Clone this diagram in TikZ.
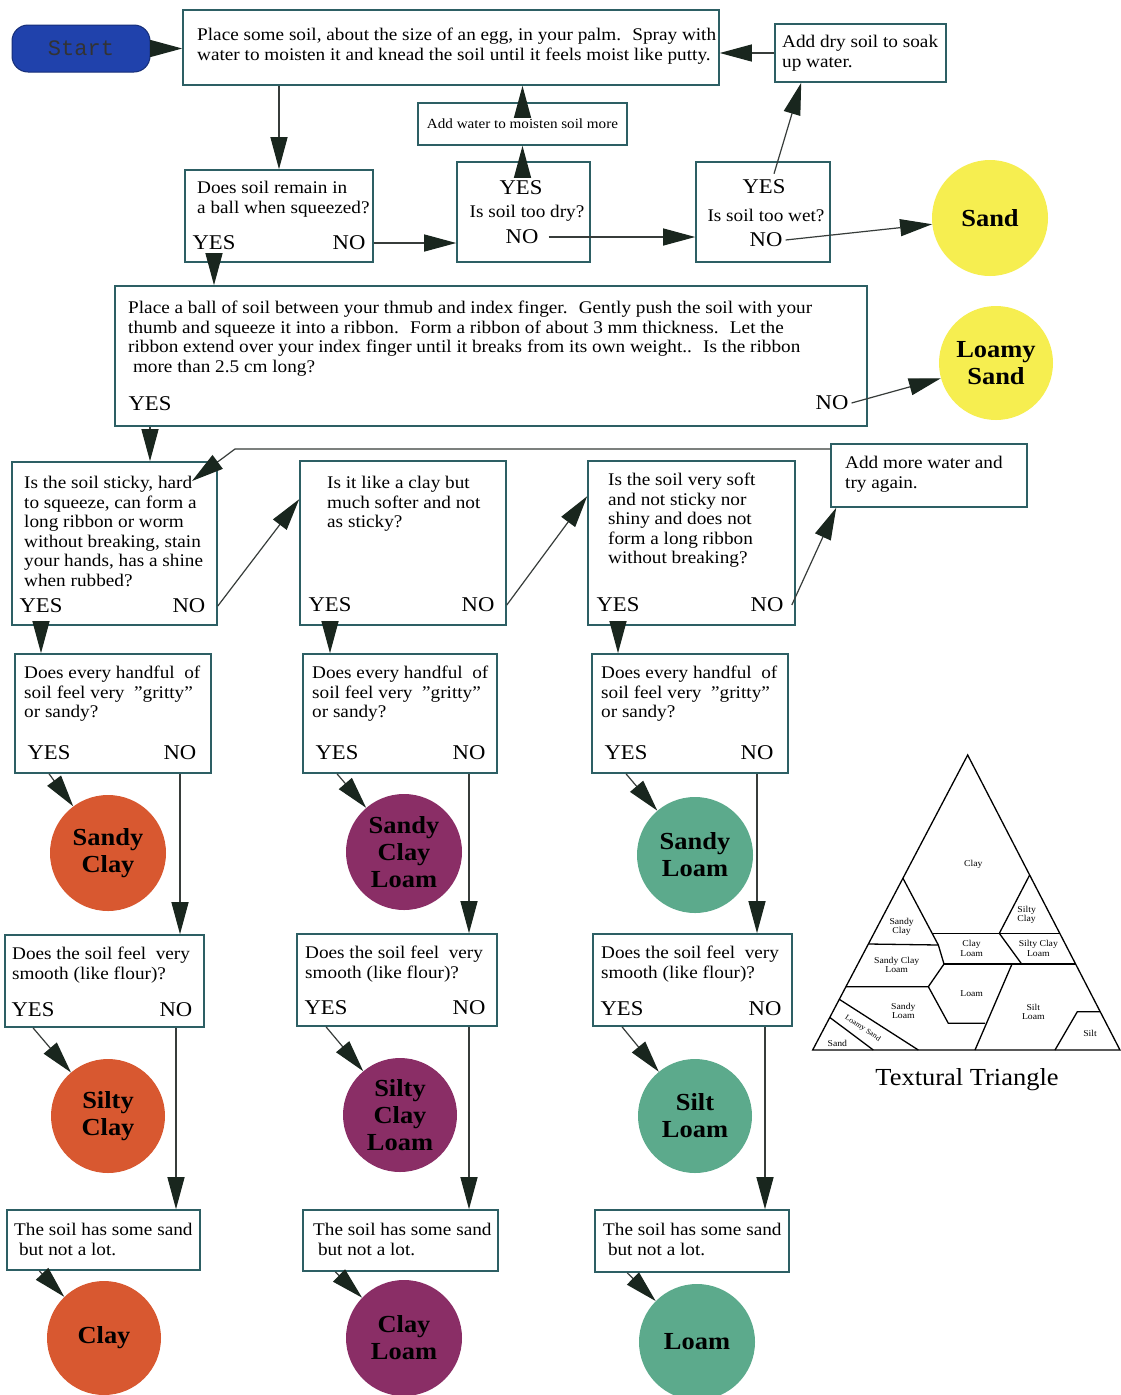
\documentclass[tikz,border=0pt]{standalone}
\usepackage{fontspec}
\setmainfont[FakeStretch=1.08]{Liberation Serif}
\setmonofont{Liberation Mono}
\usetikzlibrary{arrows.meta,fit,calc}
\definecolor{boxline}{RGB}{45,95,100}
\definecolor{arrowc}{RGB}{25,38,30}
\definecolor{linec}{RGB}{55,60,58}
\definecolor{sandy}{RGB}{246,238,80}
\definecolor{orng}{RGB}{216,88,48}
\definecolor{purp}{RGB}{138,46,102}
\definecolor{tealc}{RGB}{92,170,140}
\definecolor{startblue}{RGB}{32,66,172}
\begin{document}
\begin{tikzpicture}[x=1pt,y=-1pt,
  box/.style={draw=boxline, line width=1.6pt, inner sep=0pt},
  txt/.style={inner sep=0pt, align=left, anchor=north west, font=\fontsize{17.8}{19.5}\selectfont},
  yn/.style={inner sep=0pt, font=\fontsize{21}{24}\selectfont},
  circ/.style={circle, inner sep=0pt, minimum size=116pt, align=center, font=\fontsize{24.5}{27}\selectfont\bfseries},
  arr/.style={draw=linec, line width=1.2pt, -{Triangle[length=32pt,width=17pt,color=arrowc]}},
  tri/.style={line width=1.3pt, black},
  tlab/.style={inner sep=0pt, align=center, font=\fontsize{9}{9.5}\selectfont}]
\useasboundingbox (0,0) rectangle (1120,1395);
\fill[white] (0,0) rectangle (1120,1395);

% ---------- top row ----------
\node[fit={(12,25) (150,72)}, inner sep=0pt, rounded corners=16pt, fill=startblue, draw=startblue!70!black, line width=1pt] (start) {};
\node[inner sep=0pt, font=\ttfamily\fontsize{22}{24}\selectfont, text=black!80] (startt) at (start.center) {Start};

\node[box, fit={(183,10) (719,85)}] (box1) {};
\node[txt] (box1t) at (197,28) {Place some soil, about the size of an egg, in your palm.~ Spray with\\water to moisten it and knead the soil until it feels moist like putty.};

\node[box, fit={(775,24) (946,82)}] (adddry) {};
\node[txt] (adddryt) at (782,35) {Add dry soil to soak\\up water.};

\node[box, fit={(418,103) (627,145)}] (addwater) {};
\node[inner sep=0pt, font=\fontsize{14}{16}\selectfont] (addwatert) at (addwater.center) {Add water to moisten soil more};

\node[box, fit={(185,170) (373,262)}] (q1) {};
\node[txt] (q1t) at (197,181) {Does soil remain in\\a ball when squeezed?};
\node[yn] (q1yes) at (214,243) {YES};
\node[yn] (q1no) at (349,243) {NO};

\node[box, fit={(457,162) (590,262)}] (dry) {};
\node[yn] (dryyes) at (521,188) {YES};
\node[inner sep=0pt, font=\fontsize{17.8}{19}\selectfont] (dryq) at (527,213) {Is soil too dry?};
\node[yn] (dryno) at (522,237) {NO};

\node[box, fit={(696,162) (830,262)}] (wet) {};
\node[yn] (wetyes) at (764,187) {YES};
\node[inner sep=0pt, font=\fontsize{17.8}{19}\selectfont] (wetq) at (766,215) {Is soil too wet?};
\node[yn] (wetno) at (766,240) {NO};

\node[circ, fill=sandy] (sand) at (990,218) {Sand};

% ---------- ribbon ----------
\node[box, fit={(115,286) (867,426)}] (ribbon) {};
\node[txt] (ribbont) at (128,301) {Place a ball of soil between your thmub and index finger.~ Gently push the soil with your\\thumb and squeeze it into a ribbon.~ Form a ribbon of about 3 mm thickness.~ Let the\\ribbon extend over your index finger until it breaks from its own weight..~ Is the ribbon\\\ more than 2.5 cm long?};
\node[yn] (ribyes) at (150,404) {YES};
\node[yn] (ribno) at (832,403) {NO};

\node[circ, fill=sandy, minimum size=114pt] (loamy) at (996,363) {Loamy\\Sand};

% ---------- second question row ----------
\node[box, fit={(12,462) (217,625)}] (ka) {};
\node[txt] (kat) at (24,476) {Is the soil sticky, hard\\to squeeze, can form a\\long ribbon or worm\\without breaking, stain\\your hands, has a shine\\when rubbed?};
\node[yn] (kayes) at (41,606) {YES};
\node[yn] (kano) at (189,606) {NO};

\node[box, fit={(300,461) (506,625)}] (kb) {};
\node[txt] (kbt) at (327,476) {Is it like a clay but\\much softer and not\\as sticky?};
\node[yn] (kbyes) at (330,605) {YES};
\node[yn] (kbno) at (478,605) {NO};

\node[box, fit={(588,461) (795,625)}] (kc) {};
\node[txt] (kct) at (608,473) {Is the soil very soft\\and not sticky nor\\shiny and does not\\form a long ribbon\\without breaking?};
\node[yn] (kcyes) at (618,605) {YES};
\node[yn] (kcno) at (767,605) {NO};

\node[box, fit={(831,444) (1027,507)}] (addmore) {};
\node[txt] (addmoret) at (845,456) {Add more water and\\try again.};

% ---------- gritty row ----------
\node[box, fit={(15,654) (211,773)}] (g1) {};
\node[txt] (g1t) at (24,666) {Does every handful~ of\\soil feel very~ "gritty"\\or sandy?};
\node[yn] (g1yes) at (49,753) {YES};
\node[yn] (g1no) at (180,753) {NO};

\node[box, fit={(303,654) (497,773)}] (g2) {};
\node[txt] (g2t) at (312,666) {Does every handful~ of\\soil feel very~ "gritty"\\or sandy?};
\node[yn] (g2yes) at (337,753) {YES};
\node[yn] (g2no) at (469,753) {NO};

\node[box, fit={(592,654) (788,773)}] (g3) {};
\node[txt] (g3t) at (601,666) {Does every handful~ of\\soil feel very~ "gritty"\\or sandy?};
\node[yn] (g3yes) at (626,753) {YES};
\node[yn] (g3no) at (757,753) {NO};

\node[circ, fill=orng] (sc) at (108,853) {Sandy\\Clay};
\node[circ, fill=purp] (scl) at (404,852) {Sandy\\Clay\\Loam};
\node[circ, fill=tealc] (sl) at (695,855) {Sandy\\Loam};

% ---------- smooth row ----------
\node[box, fit={(5,935) (204,1027)}] (s1) {};
\node[txt] (s1t) at (12,947) {Does the soil feel~ very\\smooth (like flour)?};
\node[yn] (s1yes) at (33,1010) {YES};
\node[yn] (s1no) at (176,1010) {NO};

\node[box, fit={(297,934) (497,1026)}] (s2) {};
\node[txt] (s2t) at (305,946) {Does the soil feel~ very\\smooth (like flour)?};
\node[yn] (s2yes) at (326,1008) {YES};
\node[yn] (s2no) at (469,1008) {NO};

\node[box, fit={(593,934) (792,1026)}] (s3) {};
\node[txt] (s3t) at (601,946) {Does the soil feel~ very\\smooth (like flour)?};
\node[yn] (s3yes) at (622,1009) {YES};
\node[yn] (s3no) at (765,1009) {NO};

\node[circ, fill=orng, minimum size=114pt] (sic) at (108,1116) {Silty\\Clay};
\node[circ, fill=purp, minimum size=114pt] (sicl) at (400,1115) {Silty\\Clay\\Loam};
\node[circ, fill=tealc, minimum size=114pt] (sil) at (695,1116) {Silt\\Loam};

% ---------- sand row ----------
\node[box, fit={(7,1210) (200,1270)}] (n1) {};
\node[txt] (n1t) at (14,1223) {The soil has some sand\\\ but not a lot.};
\node[box, fit={(303,1210) (498,1271)}] (n2) {};
\node[txt] (n2t) at (313,1223) {The soil has some sand\\\ but not a lot.};
\node[box, fit={(595,1210) (789,1272)}] (n3) {};
\node[txt] (n3t) at (603,1223) {The soil has some sand\\\ but not a lot.};

\node[circ, fill=orng, minimum size=114pt] (clay) at (104,1338) {Clay};
\node[circ, fill=purp] (cl) at (404,1338) {Clay\\Loam};
\node[circ, fill=tealc] (loam) at (697,1342) {Loam};

% ---------- connectors ----------
\draw[arr] (start.east) -- (start.east -| box1.west);
\draw[arr] (box1.south -| q1.north) -- (q1.north);
\draw[arr] (addwater.north) -- (addwater.north |- box1.south);
\draw[arr] (dry.north -| addwater.south) -- (addwater.south);
\draw[arr] (adddry.west) -- (adddry.west -| box1.east);
\draw[arr] (q1.east |- q1no) -- (dry.west |- q1no);
\draw[arr] ([xshift=10pt]dryno.east) -- (wet.west |- dryno);
\draw[arr] ([xshift=10pt,yshift=6pt]wetyes.north) -- ($(adddry.south west)+(27,0)$);
\draw[arr] ([xshift=3pt]wetno.east) -- (sand);
\draw[arr] (q1.south -| q1yes) -- (ribbon.north -| q1yes);
\draw[arr] ([xshift=3pt]ribno.east) -- (loamy);
\draw[arr] (ribbon.south -| ribyes) -- (ka.north -| ribyes);

\coordinate (bend) at (235,449);
\coordinate (kaIn) at (192,481);
\draw[arr] (addmore.west |- bend) -- (bend) -- (kaIn);

\draw[arr] (ka.east |- kano) -- ($(kb.north west)+(0,39)$);
\draw[arr] (kb.east |- kbno) -- ($(kc.north west)+(0,36)$);
\draw[arr] ([xshift=-4pt]kc.east |- kcno) -- ($(addmore.south west)+(6,0)$);

\draw[arr] (ka.south -| kayes) -- (g1.north -| kayes);
\draw[arr] (kb.south -| kbyes) -- (g2.north -| kbyes);
\draw[arr] (kc.south -| kcyes) -- (g3.north -| kcyes);

\draw[arr] (g1.south -| g1yes) -- (sc);
\draw[arr] (g2.south -| g2yes) -- (scl);
\draw[arr] (g3.south -| g3yes) -- (sl);
\draw[arr] (g1.south -| g1no) -- (s1.north -| g1no);
\draw[arr] (g2.south -| g2no) -- (s2.north -| g2no);
\draw[arr] (g3.south -| g3no) -- (s3.north -| g3no);

\draw[arr] (s1.south -| s1yes) -- (sic);
\draw[arr] (s2.south -| s2yes) -- (sicl);
\draw[arr] (s3.south -| s3yes) -- (sil);
\draw[arr] (s1.south -| s1no) -- (n1.north -| s1no);
\draw[arr] (s2.south -| s2no) -- (n2.north -| s2no);
\draw[arr] (s3.south -| s3no) -- (n3.north -| s3no);

\draw[arr] ($(n1.south west)+(33,0)$) -- (clay);
\draw[arr] ($(n2.south west)+(33,0)$) -- (cl);
\draw[arr] ($(n3.south west)+(33,0)$) -- (loam);

% ---------- textural triangle ----------
\begin{scope}[shift={(800,740)}, scale=1/3]
  \draw[tri, line join=miter] (503,45) -- (960,930) -- (38,930) -- cycle;
  \draw[tri] (309,415) -- (415,615) -- (432,672) -- (385,740);
  \draw[tri] (396,580) -- (779,580);
  \draw[tri] (689,405) -- (598,580) -- (665,672);
  \draw[tri] (432,672) -- (827,672);
  \draw[tri] (205,612) -- (415,615);
  \draw[tri] (138,740) -- (385,740) -- (445,850) -- (555,850);
  \draw[tri] (636,672) -- (525,930);
  \draw[tri] (118,778) -- (355,930);
  \draw[tri] (89,832) -- (220,930);
  \draw[tri] (765,930) -- (832,815) -- (900,815);
  \node[tlab] (tclay) at (520,372) {Clay};
  \node[tlab] (tsic) at (680,525) {Silty\\Clay};
  \node[tlab] (tsc) at (305,560) {Sandy\\Clay};
  \node[tlab] (tcl) at (515,625) {Clay\\Loam};
  \node[tlab] (tsicl) at (715,625) {Silty Clay\\Loam};
  \node[tlab] (tscl) at (290,675) {Sandy Clay\\Loam};
  \node[tlab] (tloam) at (515,760) {Loam};
  \node[tlab] (tsl) at (310,812) {Sandy\\Loam};
  \node[tlab] (tsil) at (700,815) {Silt\\Loam};
  \node[tlab] (tsilt) at (870,880) {Silt};
  \node[tlab] (tsand) at (112,910) {Sand};
  \node[tlab, rotate=-34, font=\fontsize{7.5}{8}\selectfont] (tls) at (188,865) {Loamy Sand};
\end{scope}
\node[inner sep=0pt, font=\fontsize{24.5}{26}\selectfont] (ttitle) at (967,1080) {Textural Triangle};
\end{tikzpicture}
\end{document}
